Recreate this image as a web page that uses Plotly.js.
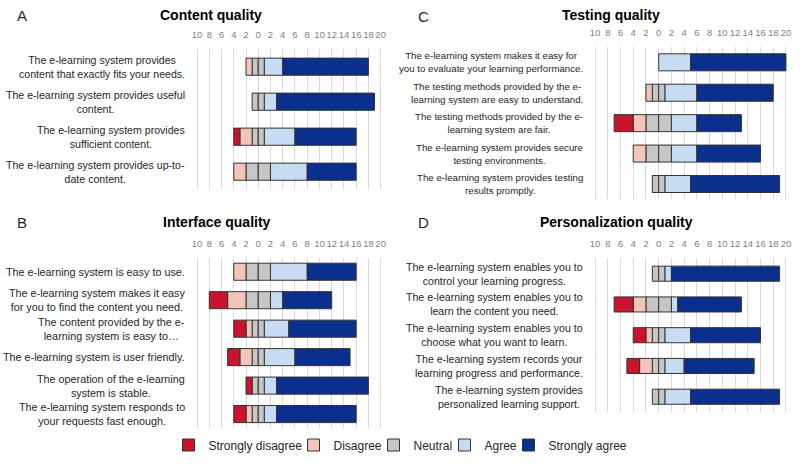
<!DOCTYPE html>
<html>
<head>
<meta charset="utf-8">
<script src="https://cdn.plot.ly/plotly-3.0.1.min.js"></script>
<style>html,body{margin:0;padding:0;background:#fff;}#chart{width:800px;height:467px;}</style>
</head>
<body>
<div id="chart"></div>
<script>
// Response categories
const levels = ["Strongly disagree", "Disagree", "Neutral", "Agree", "Strongly agree"];

// Panel A: Content quality
const labelsA = [
  "The e-learning system provides<br>content that exactly fits your needs.",
  "The e-learning system provides useful<br>content.",
  "The e-learning system provides<br>sufficient content.",
  "The e-learning system provides up-to-<br>date content."
];
const sdA = [0, 0, 1, 0];
const dA  = [1, 0, 2, 2];
const nA  = [2, 2, 2, 4];
const agA = [3, 2, 5, 6];
const saA = [14, 16, 10, 8];

// Panel B: Interface quality
const labelsB = [
  "The e-learning system is easy to use.",
  "The e-learning system makes it easy<br>for you to find the content you need.",
  "The content provided by the e-<br>learning system is easy to…",
  "The e-learning system is user friendly.",
  "The operation of the e-learning<br>system is stable.",
  "The e-learning system responds to<br>your requests fast enough."
];
const sdB = [0, 3, 2, 2, 1, 2];
const dB  = [2, 3, 1, 2, 0, 1];
const nB  = [4, 4, 2, 2, 2, 2];
const agB = [6, 2, 4, 5, 2, 2];
const saB = [8, 8, 11, 9, 15, 13];

// Panel C: Testing quality
const labelsC = [
  "The e-learning system makes it easy for<br>you to evaluate your learning performance.",
  "The testing methods provided by the e-<br>learning system are easy to understand.",
  "The testing methods provided by the e-<br>learning system are fair.",
  "The e-learning system provides secure<br>testing environments.",
  "The e-learning system provides testing<br>results promptly."
];
const sdC = [0, 0, 3, 0, 0];
const dC  = [0, 1, 2, 2, 0];
const nC  = [0, 2, 4, 4, 2];
const agC = [5, 5, 4, 4, 4];
const saC = [15, 12, 7, 10, 14];

// Panel D: Personalization quality
const labelsD = [
  "The e-learning system enables you to<br>control your learning progress.",
  "The e-learning system enables you to<br>learn the content you need.",
  "The e-learning system enables you to<br>choose what you want to learn.",
  "The e-learning system records your<br>learning progress and performance.",
  "The e-learning system provides<br>personalized learning support."
];
const sdD = [0, 3, 2, 2, 0];
const dD  = [0, 2, 1, 2, 0];
const nD  = [2, 4, 2, 2, 2];
const agD = [1, 1, 4, 3, 4];
const saD = [17, 10, 11, 11, 14];

const tickVals = [-10, -8, -6, -4, -2, 0, 2, 4, 6, 8, 10, 12, 14, 16, 18, 20];
const tickText = ["10", "8", "6", "4", "2", "0", "2", "4", "6", "8", "10", "12", "14", "16", "18", "20"];

const colors = {
  "Strongly disagree": "#C8142D",
  "Disagree": "#F3C5BA",
  "Neutral": "#C6C6C6",
  "Agree": "#C7DBF2",
  "Strongly agree": "#0A2F8C"
};
// legend entry widths (style only), to keep the legend compact
const legendW = {
  "Strongly disagree": 80, "Disagree": 35, "Neutral": 26, "Agree": 19, "Strongly agree": 78
};
const lineCol = "#333333";
const FONT = "Liberation Sans, Arial, sans-serif";

const W = 800, H = 467;
const px = v => v / W;
const py = v => 1 - v / H;

const panels = [
  {id: "", title: "Content quality", letter: "A", labels: labelsA, sd: sdA, d: dA, n: nA, ag: agA, sa: saA,
   xdom: [194.6, 383.1], ydom: [49.2, 189.2], width: 0.49, labelRight: 187, labelSize: 10.6,
   titleX: 211, titleY: 15, letterX: 22, letterY: 15},
  {id: "2", title: "Interface quality", letter: "B", labels: labelsB, sd: sdB, d: dB, n: nB, ag: agB, sa: saB,
   xdom: [194.6, 383.1], ydom: [257.5, 428.3], width: 0.6, labelRight: 187, labelSize: 10.8,
   titleX: 217, titleY: 222, letterX: 22, letterY: 222},
  {id: "3", title: "Testing quality", letter: "C", labels: labelsC, sd: sdC, d: dC, n: nC, ag: agC, sa: saC,
   xdom: [592.5, 788.5], ydom: [47.1, 199.2], width: 0.56, labelRight: 585, labelSize: 9.7,
   titleX: 611, titleY: 15, letterX: 423, letterY: 16},
  {id: "4", title: "Personalization quality", letter: "D", labels: labelsD, sd: sdD, d: dD, n: nD, ag: agD, sa: saD,
   xdom: [592.5, 788.5], ydom: [258.3, 412.1], width: 0.49, labelRight: 585, labelSize: 10.6,
   titleX: 616, titleY: 222, letterX: 423, letterY: 222}
];

const nz = v => (v === 0 ? null : v);
const traces = [];
const layout = {
  width: W, height: H,
  margin: {l: 0, r: 0, t: 0, b: 0},
  paper_bgcolor: "#ffffff", plot_bgcolor: "rgba(0,0,0,0)",
  barmode: "relative",
  showlegend: true,
  legend: {
    orientation: "h", x: 0.5, xanchor: "center", y: py(445), yanchor: "middle",
    font: {family: FONT, size: 12, color: "#262626"},
    itemwidth: 30, tracegroupgap: 0, traceorder: "normal"
  },
  annotations: [],
  font: {family: FONT}
};

panels.forEach((p, pi) => {
  const xa = "x" + p.id, ya = "y" + p.id;
  const idx = p.labels.map((_, i) => i);
  const first = pi === 0;
  const mk = (name, vals, rank, show) => ({
    type: "bar", orientation: "h", name: name,
    x: vals, y: idx, xaxis: xa, yaxis: ya, width: p.width,
    marker: {color: colors[name], line: {color: lineCol, width: 1}},
    legendgroup: name, legendrank: rank, showlegend: show, legendwidth: legendW[name],
    hoverinfo: "skip"
  });
  traces.push(mk("Neutral", p.n.map(v => nz(-v / 2)), 3, false));
  traces.push(mk("Neutral", p.n.map(v => nz(v / 2)), 3, first));
  traces.push(mk("Disagree", p.d.map(v => nz(-v)), 2, first));
  traces.push(mk("Agree", p.ag.map(v => nz(v)), 4, first));
  traces.push(mk("Strongly disagree", p.sd.map(v => nz(-v)), 1, first));
  traces.push(mk("Strongly agree", p.sa.map(v => nz(v)), 5, first));

  const xkey = "xaxis" + p.id, ykey = "yaxis" + p.id;
  layout[xkey] = {
    domain: [px(p.xdom[0]), px(p.xdom[1])],
    range: [-10.4, 20.4], anchor: ya, side: "top",
    tickvals: tickVals, ticktext: tickText, tickangle: 0,
    tickfont: {family: FONT, size: 9.5, color: "#7f7f7f"},
    ticks: "", ticklabelstandoff: 8,
    showgrid: true, gridcolor: "#d9d9d9", gridwidth: 1,
    zeroline: false, showline: false, fixedrange: true
  };
  layout[ykey] = {
    domain: [py(p.ydom[1]), py(p.ydom[0])],
    range: [p.labels.length - 0.5, -0.5], anchor: xa,
    showticklabels: false, showgrid: false, zeroline: false, showline: false,
    ticks: "", fixedrange: true
  };

  p.labels.forEach((lab, i) => {
    layout.annotations.push({
      text: lab, xref: "paper", yref: ya, x: px(p.labelRight), y: i,
      xanchor: "right", yanchor: "middle", align: "center", showarrow: false,
      font: {family: FONT, size: p.labelSize, color: "#262626"}
    });
  });
  layout.annotations.push({
    text: "<b>" + p.title + "</b>", xref: "paper", yref: "paper",
    x: px(p.titleX), y: py(p.titleY), xanchor: "center", yanchor: "middle",
    showarrow: false, font: {family: FONT, size: 14, color: "#000000"}
  });
  layout.annotations.push({
    text: p.letter, xref: "paper", yref: "paper",
    x: px(p.letterX), y: py(p.letterY), xanchor: "center", yanchor: "middle",
    showarrow: false, font: {family: FONT, size: 15, color: "#262626"}
  });
});

Plotly.newPlot("chart", traces, layout, {displayModeBar: false, staticPlot: true});
</script>
</body>
</html>
